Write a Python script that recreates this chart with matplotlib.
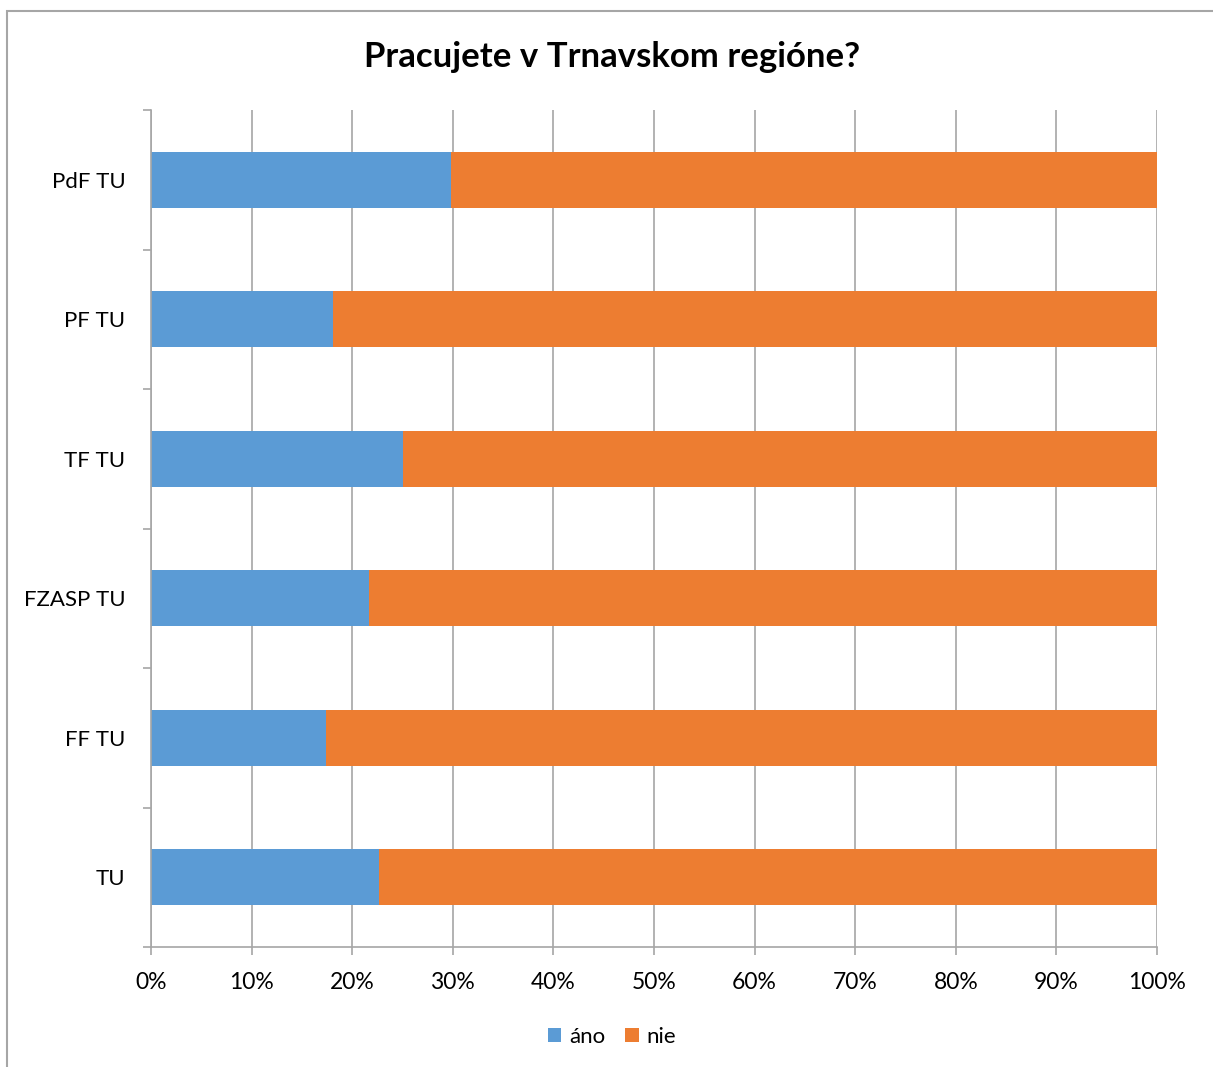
import numpy as np
import matplotlib.pyplot as plt
from matplotlib.patches import Rectangle
from matplotlib.ticker import FixedLocator, PercentFormatter

plt.rcParams['font.family'] = ['Lato', 'DejaVu Sans']

# data (shares in %), top to bottom
categories = ['PdF TU', 'PF TU', 'TF TU', 'FZASP TU', 'FF TU', 'TU']
ano = [29.8, 18.1, 25.0, 21.7, 17.4, 22.7]
nie = [100 - v for v in ano]

blue = '#5B9BD5'
orange = '#ED7D31'
grey = '#A6A6A6'

fig = plt.figure(figsize=(12.13, 10.67), dpi=100)
ax = fig.add_axes([151/1213, 1 - 947/1067, (1157 - 151)/1213, (947 - 110)/1067])

y = np.arange(len(categories))
ax.barh(y, ano, height=0.4, color=blue, label='áno')
ax.barh(y, nie, left=ano, height=0.4, color=orange, label='nie')

ax.set_xlim(0, 100)
ax.set_ylim(len(categories) - 0.5, -0.5)

# x axis
ax.set_xticks(np.arange(0, 101, 10))
ax.xaxis.set_major_formatter(PercentFormatter(decimals=0))
ax.grid(axis='x', color=grey, linewidth=1.2)
ax.set_axisbelow(True)
ax.tick_params(axis='x', direction='out', length=6, width=1.2, color=grey,
               labelsize=16.5, pad=12)

# y axis: labels at centres, tick marks between categories
ax.set_yticks(y)
ax.set_yticklabels(categories)
ax.yaxis.set_minor_locator(FixedLocator(np.arange(-0.5, len(categories), 1)))
ax.tick_params(axis='y', which='major', length=0, labelsize=16, pad=18.5)
ax.tick_params(axis='y', which='minor', direction='out', length=6, width=1.2, color=grey)

for side in ['top', 'right']:
    ax.spines[side].set_visible(False)
for side in ['left', 'bottom']:
    ax.spines[side].set_color(grey)
    ax.spines[side].set_linewidth(1.2)

fig.suptitle('Pracujete v Trnavskom regióne?', x=612/1213, y=1 - 57/1067,
             va='center', fontsize=25, fontweight='bold')

fig.legend(loc='center', bbox_to_anchor=(612/1213, 1 - 1037/1067), ncol=2,
           frameon=False, fontsize=16, handlelength=0.6, handleheight=0.6,
           handletextpad=0.35, columnspacing=0.9)

# outer chart frame (runs off the right/bottom edge like the original)
fig.patches.append(Rectangle((7/1213, -0.05), 1.1, 1 - 11/1067 + 0.05,
                             transform=fig.transFigure, fill=False,
                             edgecolor=grey, linewidth=1.5))

fig.savefig('out.png', dpi=100)
